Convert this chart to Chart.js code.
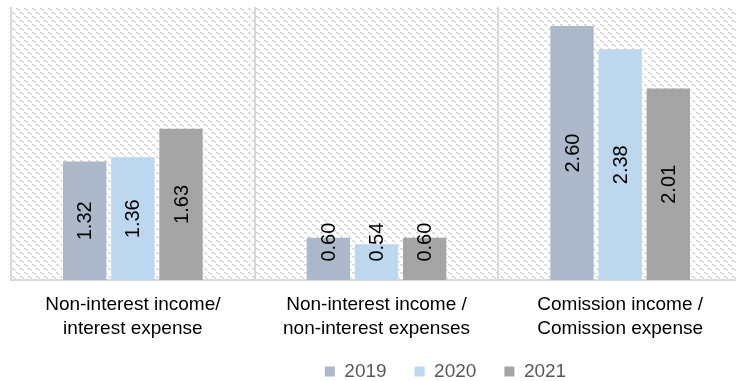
<!DOCTYPE html>
<html>
<head>
<meta charset="utf-8">
<script src="https://cdn.jsdelivr.net/npm/chart.js@4/dist/chart.umd.min.js"></script>
<style>
  html, body { margin: 0; padding: 0; background: #ffffff; overflow: hidden; }
  #wrap { position: relative; width: 742px; height: 381px; }
</style>
</head>
<body>
<div id="wrap"><canvas id="c"></canvas></div>
<script>
// ---- data ----
const categories = [
  ["Non-interest income/", "interest expense"],
  ["Non-interest income /", "non-interest expenses"],
  ["Comission income /", "Comission expense"]
];
const seriesNames = ["2019", "2020", "2021"];
const values2019 = [1.32, 0.60, 2.60];
const values2020 = [1.36, 0.54, 2.38];
const values2021 = [1.63, 0.60, 2.01];
const seriesColors = ["#adb9ca", "#bdd7ee", "#a5a5a5"];

// ---- background hatch pattern ----
function makePattern() {
  const t = document.createElement('canvas');
  t.width = 8; t.height = 8;
  const g = t.getContext('2d');
  g.fillStyle = '#ffffff';
  g.fillRect(0, 0, 8, 8);
  g.fillStyle = '#d2d2d2';
  for (let y = 0; y < 8; y++) {
    for (let x = 0; x < 8; x++) {
      const d = ((x - y) % 8 + 8) % 8;
      if ((d === 0 || d === 1) && (y % 4) < 2) g.fillRect(x, y, 1, 1);
      if (d === 1 && (y % 4) === 2) g.fillRect(x, y, 1, 1);
    }
  }
  return g.createPattern(t, 'repeat');
}

const bgPlugin = {
  id: 'bgHatch',
  beforeDraw(chart) {
    const a = chart.chartArea;
    const ctx = chart.ctx;
    ctx.save();
    ctx.fillStyle = makePattern();
    ctx.fillRect(a.left, a.top, a.right - a.left, a.bottom - a.top);
    ctx.restore();
  }
};

const labelPlugin = {
  id: 'barLabels',
  afterDatasetsDraw(chart) {
    const ctx = chart.ctx;
    const bottom = chart.chartArea.bottom;
    chart.data.datasets.forEach((ds, i) => {
      const meta = chart.getDatasetMeta(i);
      meta.data.forEach((bar, j) => {
        const p = bar.getProps(['x', 'y', 'base'], true);
        const base = Math.min(p.base, bottom);
        const mid = (p.y + base) / 2;
        const cy = Math.min(mid, base - 38);
        ctx.save();
        ctx.translate(p.x, cy);
        ctx.rotate(-Math.PI / 2);
        ctx.font = '20px "Liberation Sans", Arial, sans-serif';
        ctx.fillStyle = '#000000';
        ctx.textAlign = 'center';
        ctx.textBaseline = 'middle';
        ctx.fillText(ds.data[j].toFixed(2), 0, 1);
        ctx.restore();
      });
    });
  }
};

const legendShift = {
  id: 'legendShift',
  afterLayout(chart) {
    const lg = chart.legend;
    if (!lg) return;
    const dx = 69;
    const dy = 370 - (lg.top + 36);
    lg.left += dx; lg.right += dx;
    lg.top += dy;
    lg.bottom = 381;
    lg.height = lg.bottom - lg.top;
  }
};

const datasets = [values2019, values2020, values2021].map((vals, i) => ({
  label: seriesNames[i],
  data: vals,
  backgroundColor: seriesColors[i],
  borderWidth: 0,
  categoryPercentage: 0.593,
  barPercentage: 0.9
}));

new Chart(document.getElementById('c'), {
  type: 'bar',
  data: { labels: categories, datasets },
  options: {
    responsive: true,
    maintainAspectRatio: false,
    animation: false,
    layout: { padding: { left: 11, top: 7, right: 0, bottom: 0 } },
    plugins: {
      tooltip: { enabled: false },
      legend: {
        position: 'bottom',
        maxHeight: 27,
        labels: {
          boxWidth: 10,
          boxHeight: 10,
          padding: 28,
          color: '#595959',
          font: { family: '"Liberation Sans", Arial, sans-serif', size: 19 }
        }
      }
    },
    scales: {
      x: {
        grid: { color: '#d9d9d9', lineWidth: 2, drawTicks: false, offset: true },
        border: { color: '#d9d9d9', width: 2 },
        ticks: {
          color: '#000000',
          padding: 13,
          maxRotation: 0,
          font: { family: '"Liberation Sans", Arial, sans-serif', size: 19, lineHeight: 1.26 }
        }
      },
      y: {
        display: false,
        min: 0.2,
        max: 2.78
      }
    }
  },
  plugins: [bgPlugin, labelPlugin, legendShift]
});
</script>
</body>
</html>
